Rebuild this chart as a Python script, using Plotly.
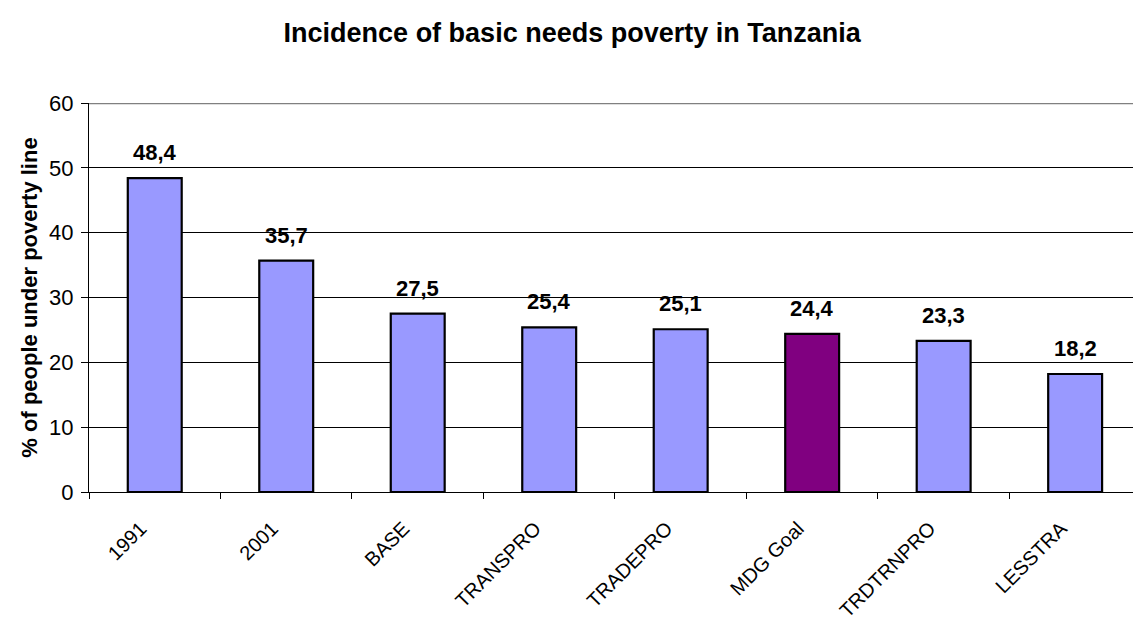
import plotly.graph_objects as go

categories = ["1991", "2001", "BASE", "TRANSPRO", "TRADEPRO", "MDG Goal", "TRDTRNPRO", "LESSTRA"]
values = [48.4, 35.7, 27.5, 25.4, 25.1, 24.4, 23.3, 18.2]
colors = ["#9999FF", "#9999FF", "#9999FF", "#9999FF", "#9999FF", "#800080", "#9999FF", "#9999FF"]
y_ticks = [0, 10, 20, 30, 40, 50, 60]

FONT = "Liberation Sans, Arial"

fig = go.Figure()
fig.add_trace(go.Bar(
    x=list(range(len(categories))), y=values,
    marker=dict(color=colors, line=dict(color="black", width=2.2)),
    width=0.41,
))

for i, v in enumerate(values):
    fig.add_annotation(
        x=i, y=v, xref="x", yref="y",
        text="<b>" + f"{v:.1f}".replace(".", ",") + "</b>",
        showarrow=False, yanchor="bottom", yshift=11,
        font=dict(family=FONT, size=22, color="black"),
    )

fig.update_layout(
    width=1133, height=621,
    margin=dict(l=89, r=0, t=103, b=129),
    paper_bgcolor="white", plot_bgcolor="white",
    showlegend=False,
    font=dict(family=FONT, color="black"),
    title=dict(text="<b>Incidence of basic needs poverty in Tanzania</b>",
               x=0.505, xanchor="center", y=0.947, yanchor="middle",
               font=dict(size=27, color="black")),
    xaxis=dict(
        range=[-0.5, 7.44],
        tickmode="array",
        tickvals=list(range(len(categories))), ticktext=categories,
        ticks="", tickangle=-45, tickfont=dict(size=20),
        ticklabelshift=-14, ticklabelstandoff=16,
        showline=True, linecolor="black", linewidth=1,
        showgrid=False, zeroline=False,
        minor=dict(tickvals=[i - 0.5 for i in range(len(categories) + 1)],
                   ticks="outside", ticklen=6, tickcolor="black", showgrid=False),
    ),
    yaxis=dict(
        range=[0, 60], tickvals=y_ticks,
        ticks="outside", ticklen=7, tickcolor="black",
        showline=True, linecolor="black", linewidth=1,
        showgrid=True, gridcolor="black", gridwidth=1,
        tickfont=dict(size=22), ticklabelstandoff=3,
        title=dict(text="<b>% of people under poverty line</b>", font=dict(size=22), standoff=5),
        zeroline=False,
    ),
)
fig.add_shape(type="line", xref="paper", yref="y", x0=0, x1=1, y0=60, y1=60,
              line=dict(color="#808080", width=2.5))

fig.write_html("out.html")
